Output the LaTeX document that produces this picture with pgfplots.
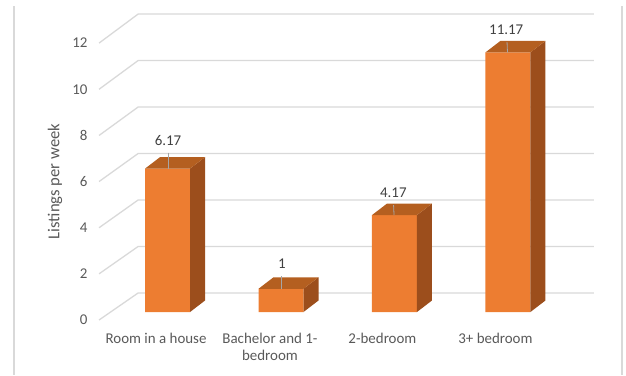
\documentclass[border=0pt]{standalone}
\usepackage{pgfplots}
\pgfplotsset{compat=1.18}
\usepackage{fontspec}
\setmainfont{Carlito}
\definecolor{frontc}{HTML}{ED7D31}
\definecolor{topc}{HTML}{B45F20}
\definecolor{sidec}{HTML}{9C4E1C}
\definecolor{gridc}{HTML}{D9D9D9}
\definecolor{labc}{HTML}{595959}
\definecolor{datc}{HTML}{404040}
\definecolor{leadc}{HTML}{A6A6A6}
\begin{document}
\begin{tikzpicture}
\begin{axis}[
  scale only axis,
  width=626bp, height=375bp,
  xmin=-1.4758, xmax=4.0396,
  ymin=-2.7097, ymax=13.4194,
  enlargelimits=false,
  axis line style={draw=none},
  major tick length=0pt,
  /pgf/number format/assume math mode=true,
  ytick={-0.344,1.643,3.626,5.613,7.596,9.583,11.570},
  yticklabels={0,2,4,6,8,10,12},
  yticklabel style={anchor=east, xshift=91bp, font=\fontsize{15}{18}\selectfont, text=labc},
  xtick={-0.101,0.903,1.894,2.89},
  xticklabels={Room in a house,{Bachelor and 1-\\bedroom},2-bedroom,3+ bedroom},
  xticklabel style={anchor=north, align=center, yshift=45bp, font=\fontsize{15}{16.5}\selectfont, text=labc},
  ylabel={Listings per week},
  ylabel style={at={(axis description cs:0.0879,0.5163)}, anchor=center, font=\fontsize{16.7}{20}\selectfont, text=labc},
  gridl/.style={draw=gridc, line width=1.3bp, mark=none, forget plot},
  clip=false,
]
% chart frame sides
\addplot[draw=gridc, line width=1.3bp, forget plot] coordinates {(-1.3524,13.161) (-1.3524,-2.7097)};
\addplot[draw=gridc, line width=1.3bp, forget plot] coordinates {(4.0044,13.161) (4.0044,-2.7097)};
% 3-D gridlines (side wall + back wall)
\addplot[gridl] coordinates {(-0.6035,-0.344) (-0.2599,0.817) (3.7577,0.817)};
\addplot[gridl] coordinates {(-0.6035,1.643) (-0.2599,2.817) (3.7577,2.817)};
\addplot[gridl] coordinates {(-0.6035,3.626) (-0.2599,4.817) (3.7577,4.817)};
\addplot[gridl] coordinates {(-0.6035,5.613) (-0.2599,6.817) (3.7577,6.817)};
\addplot[gridl] coordinates {(-0.6035,7.596) (-0.2599,8.817) (3.7577,8.817)};
\addplot[gridl] coordinates {(-0.6035,9.583) (-0.2599,10.817) (3.7577,10.817)};
\addplot[gridl] coordinates {(-0.6035,11.570) (-0.2599,12.817) (3.7577,12.817)};
% front faces of the bars
\addplot[ybar, bar width=45bp, fill=frontc, draw=none, forget plot] coordinates {(0,6.17) (1,1) (2,4.17) (3,11.17)};
% side faces
\addplot[fill=sidec, draw=none, forget plot] coordinates {(0.1982,0) (0.3304,0.495) (0.3304,6.665) (0.1982,6.17)} -- cycle;
\addplot[fill=sidec, draw=none, forget plot] coordinates {(1.1982,0) (1.3304,0.495) (1.3304,1.495) (1.1982,1)} -- cycle;
\addplot[fill=sidec, draw=none, forget plot] coordinates {(2.1982,0) (2.3304,0.495) (2.3304,4.665) (2.1982,4.17)} -- cycle;
\addplot[fill=sidec, draw=none, forget plot] coordinates {(3.1982,0) (3.3304,0.495) (3.3304,11.665) (3.1982,11.17)} -- cycle;
% top faces
\addplot[fill=topc, draw=none, forget plot] coordinates {(-0.1982,6.17) (-0.0660,6.665) (0.3304,6.665) (0.1982,6.17)} -- cycle;
\addplot[fill=topc, draw=none, forget plot] coordinates {(0.8018,1) (0.9340,1.495) (1.3304,1.495) (1.1982,1)} -- cycle;
\addplot[fill=topc, draw=none, forget plot] coordinates {(1.8018,4.17) (1.9340,4.665) (2.3304,4.665) (2.1982,4.17)} -- cycle;
\addplot[fill=topc, draw=none, forget plot] coordinates {(2.8018,11.17) (2.9340,11.665) (3.3304,11.665) (3.1982,11.17)} -- cycle;
% leader lines
\addplot[draw=leadc, line width=0.8bp, forget plot] coordinates {(0.004,6.856) (0.004,6.17)};
\addplot[draw=leadc, line width=0.8bp, forget plot] coordinates {(1.006,1.545) (1.006,1)};
\addplot[draw=leadc, line width=0.8bp, forget plot] coordinates {(1.992,4.598) (1.996,4.17)};
\addplot[draw=leadc, line width=0.8bp, forget plot] coordinates {(2.992,11.609) (2.996,11.17)};
% data labels
\addplot[draw=none, mark=none, forget plot, nodes near coords, point meta=explicit symbolic,
  every node near coord/.style={anchor=center, font=\fontsize{15}{18}\selectfont, text=datc}]
  table[meta=lab] {
x y lab
0.004 7.376 6.17
1.008 2.065 1
1.990 5.118 4.17
2.985 12.129 11.17
};
\end{axis}
\end{tikzpicture}
\end{document}
